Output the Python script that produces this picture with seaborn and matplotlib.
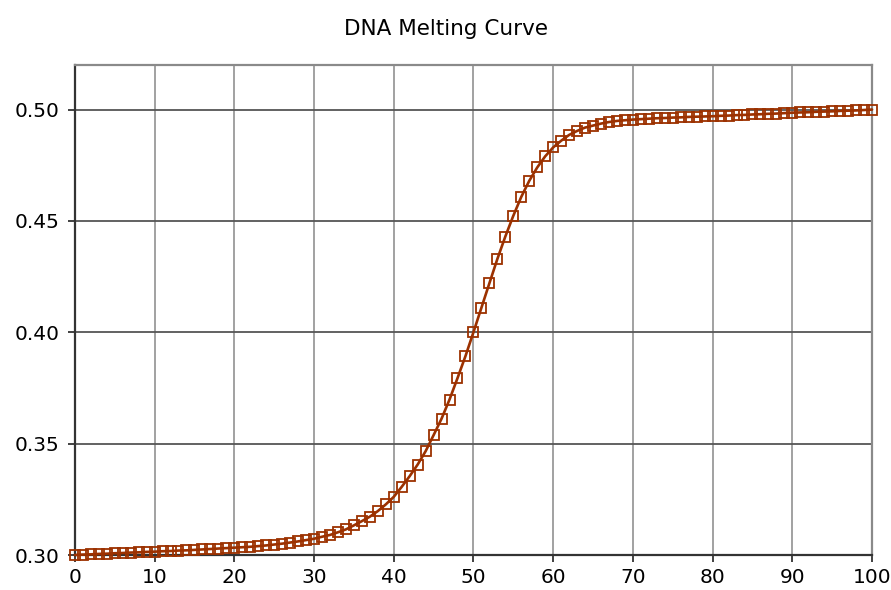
import matplotlib
matplotlib.use("Agg")
import matplotlib.pyplot as plt
import pandas as pd
import seaborn as sns

# --- datos ---
temperatura = list(range(0, 101))
absorbancia = [
    0.3000, 0.3002, 0.3003, 0.3005, 0.3006, 0.3008, 0.3009, 0.3011, 0.3012, 0.3014,
    0.3015, 0.3017, 0.3018, 0.3020, 0.3021, 0.3023, 0.3025, 0.3027, 0.3029, 0.3031,
    0.3033, 0.3035, 0.3037, 0.3040, 0.3043, 0.3047, 0.3051, 0.3056, 0.3061, 0.3067,
    0.3073, 0.3082, 0.3090, 0.3102, 0.3115, 0.3133, 0.3152, 0.3172, 0.3197, 0.3227,
    0.3261, 0.3306, 0.3354, 0.3406, 0.3466, 0.3538, 0.3612, 0.3698, 0.3794, 0.3893,
    0.4000, 0.4110, 0.4220, 0.4329, 0.4430, 0.4523, 0.4608, 0.4680, 0.4740, 0.4790,
    0.4830, 0.4860, 0.4886, 0.4904, 0.4919, 0.4928, 0.4937, 0.4944, 0.4949, 0.4952,
    0.4955, 0.4957, 0.4959, 0.4961, 0.4962, 0.4964, 0.4965, 0.4967, 0.4968, 0.4969,
    0.4970, 0.4972, 0.4973, 0.4975, 0.4976, 0.4978, 0.4979, 0.4981, 0.4982, 0.4984,
    0.4986, 0.4987, 0.4988, 0.4990, 0.4991, 0.4992, 0.4994, 0.4995, 0.4996, 0.4998,
    0.5000,
]
x_ticks = list(range(0, 101, 10))
y_ticks = [0.30, 0.35, 0.40, 0.45, 0.50]

df = pd.DataFrame({"T": temperatura, "A": absorbancia})

sns.set_style("white")
plt.rcParams["font.family"] = ["DejaVu Sans"]

color = "#9c3100"

fig = plt.figure(figsize=(8.91, 5.90), dpi=100)
ax = fig.add_axes([0.084, 0.0593, 0.8947, 0.8305])

sns.lineplot(data=df, x="T", y="A", ax=ax, color=color, linewidth=1.9,
             marker="s", markersize=7.8, markerfacecolor="none",
             markeredgecolor=color, markeredgewidth=1.3, clip_on=False, zorder=5)

ax.set_xlim(0, 100)
ax.set_ylim(0.30, 0.52)
ax.set_xticks(x_ticks)
ax.set_yticks(y_ticks)
ax.set_yticklabels([f"{v:.2f}" for v in y_ticks])
ax.set_xlabel("")
ax.set_ylabel("")

# rejilla: verticales claras, horizontales oscuras
ax.xaxis.grid(True, color="#9a9a9a", linewidth=1.3)
ax.yaxis.grid(True, color="#555555", linewidth=1.3)
ax.set_axisbelow(True)

for lado in ["left", "bottom"]:
    ax.spines[lado].set_color("#333333")
    ax.spines[lado].set_linewidth(1.6)
for lado in ["top", "right"]:
    ax.spines[lado].set_color("#8a8a8a")
    ax.spines[lado].set_linewidth(1.6)

ax.tick_params(axis="both", direction="out", length=5, width=1.3,
               color="#333333", labelsize=14.5, labelcolor="black",
               bottom=True, left=True)
ax.tick_params(axis="x", pad=4)
ax.tick_params(axis="y", pad=6)

fig.suptitle("DNA Melting Curve", y=0.968, fontsize=15.5, color="black")

fig.savefig("out.png", dpi=100)
